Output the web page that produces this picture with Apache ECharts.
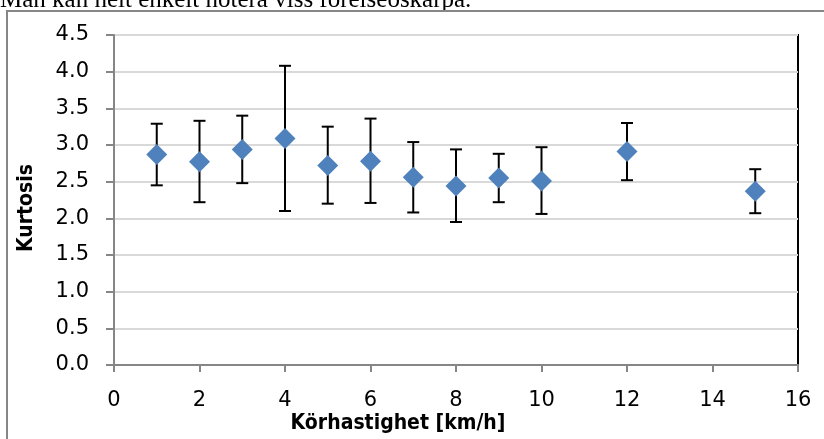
<!DOCTYPE html>
<html>
<head>
<meta charset="utf-8">
<script src="https://cdn.jsdelivr.net/npm/echarts@6/dist/echarts.min.js"></script>
<style>
  html, body { margin: 0; padding: 0; background: #fff; }
  #chart { width: 824px; height: 439px; }
</style>
</head>
<body>
<div id="chart"></div>
<script>
// hastighet (km/h), kurtosis medel, övre och undre felgräns
var speeds = [1, 2, 3, 4, 5, 6, 7, 8, 9, 10, 12, 15];
var kurtosis = [2.87, 2.77, 2.94, 3.09, 2.72, 2.78, 2.56, 2.44, 2.55, 2.51, 2.91, 2.37];
var upper = [3.29, 3.33, 3.40, 4.08, 3.25, 3.36, 3.04, 2.94, 2.88, 2.97, 3.30, 2.67];
var lower = [2.45, 2.22, 2.48, 2.10, 2.20, 2.21, 2.08, 1.95, 2.22, 2.06, 2.52, 2.07];

var myChart = echarts.init(document.getElementById('chart'));

var points = [];
var bars = [];
for (var i = 0; i < speeds.length; i++) {
	points.push([speeds[i], kurtosis[i]]);
	bars.push([speeds[i], lower[i], upper[i]]);
}

var option = {
	animation: false,
	textStyle: { fontFamily: 'DejaVu Sans' },
	graphic: [
		{
			type: 'text',
			x: 0,
			y: 13,
			style: {
				text: 'Man kan helt enkelt notera viss förelseöskarpa.',
				font: '25px "Liberation Serif"',
				fill: '#000',
				verticalAlign: 'bottom'
			}
		},
		{
			type: 'rect',
			shape: { x: 7, y: 11, width: 830, height: 440 },
			style: { fill: 'none', stroke: '#868686', lineWidth: 2 },
			silent: true
		},
		{
			type: 'text',
			x: 398,
			y: 424,
			style: {
				text: 'Körhastighet [km/h]',
				font: 'bold 21px "DejaVu Sans Condensed"',
				fill: '#000',
				align: 'center',
				verticalAlign: 'middle'
			}
		},
		{
			type: 'text',
			x: 27,
			y: 208,
			rotation: Math.PI / 2,
			style: {
				text: 'Kurtosis',
				font: 'bold 21px "DejaVu Sans Condensed"',
				fill: '#000',
				align: 'center',
				verticalAlign: 'middle'
			}
		}
	],
	grid: {
		left: 114,
		right: 26,
		top: 35,
		bottom: 74,
		show: true,
		borderColor: '#000',
		borderWidth: 2,
		backgroundColor: '#fff'
	},
	xAxis: {
		type: 'value',
		min: 0,
		max: 16,
		interval: 2,
		axisLine: { onZero: false, lineStyle: { color: '#868686', width: 2 } },
		axisTick: { show: true, length: 7, lineStyle: { color: '#868686', width: 2 } },
		axisLabel: { color: '#000', fontSize: 21, margin: 25 },
		splitLine: { show: false }
	},
	yAxis: {
		type: 'value',
		min: 0,
		max: 4.5,
		interval: 0.5,
		axisLine: { show: true, lineStyle: { color: '#868686', width: 2 } },
		axisTick: { show: true, length: 8, lineStyle: { color: '#868686', width: 2 } },
		axisLabel: {
			color: '#000',
			fontSize: 21,
			margin: 25,
			formatter: function(v) { return v.toFixed(1); }
		},
		splitLine: { show: true, lineStyle: { color: '#d9d9d9', width: 2 } }
	},
	series: [
		{
			name: 'fel',
			type: 'custom',
			data: bars,
			z: 2,
			renderItem: function(params, api) {
				var lo = api.coord([api.value(0), api.value(1)]);
				var hi = api.coord([api.value(0), api.value(2)]);
				var cap = 6;
				var st = { stroke: '#000', lineWidth: 2 };
				return {
					type: 'group',
					children: [
						{ type: 'line', shape: { x1: lo[0], y1: lo[1], x2: hi[0], y2: hi[1] }, style: st },
						{ type: 'line', shape: { x1: hi[0] - cap, y1: hi[1], x2: hi[0] + cap, y2: hi[1] }, style: st },
						{ type: 'line', shape: { x1: lo[0] - cap, y1: lo[1], x2: lo[0] + cap, y2: lo[1] }, style: st }
					]
				};
			}
		},
		{
			name: 'Kurtosis',
			type: 'scatter',
			data: points,
			z: 3,
			symbol: 'diamond',
			symbolSize: [21, 21],
			itemStyle: { color: '#4f81bd', opacity: 1 }
		}
	]
};
myChart.setOption(option);

window.onresize = function() {
	myChart.resize();
}
</script>
</body>
</html>
